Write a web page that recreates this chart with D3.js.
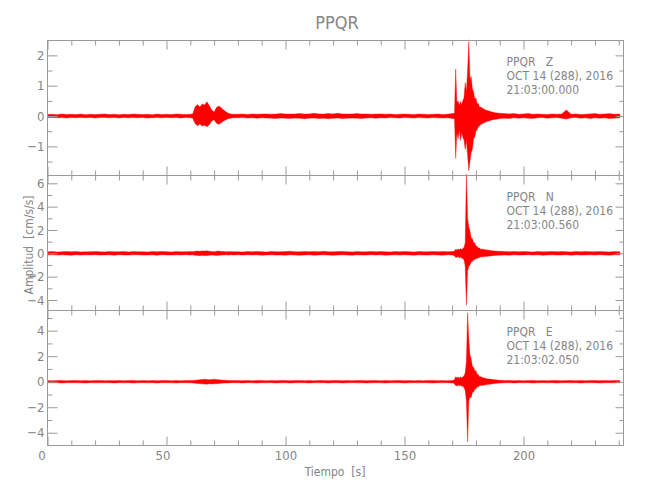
<!DOCTYPE html>
<html><head><meta charset="utf-8">
<script src="https://cdn.jsdelivr.net/npm/d3@7"></script>
<style>
body{margin:0;background:#fff;}
svg text{font-family:"DejaVu Sans Condensed","DejaVu Sans",sans-serif;font-stretch:condensed;fill:#858585;}
</style></head><body><svg id="c" width="650" height="500"></svg>
<script>
const title = "PPQR";
const xLabel = "Tiempo  [s]";
const yLabel = "Amplitud  [cm/s/s]";
const xTickValues = [0,50,100,150,200];
const xMinorValues = [10,20,30,40,60,70,80,90,110,120,130,140,160,170,180,190,210,220,230,240];
const channels = ["Z","N","E"];
const station = "PPQR";
const dateLabel = "OCT 14 (288), 2016";
const startTimes = ["21:03:00.000","21:03:00.560","21:03:02.050"];
const yDomains = [[-1.96,2.49],[-4.9,6.67],[-5.0,5.58]];
const yMajorTicks = [[-1,0,1,2],[-4,-2,0,2,4,6],[-4,-2,0,2,4]];
const yMinorTicks = [[-1.5,-0.5,0.5,1.5],[-3,-1,1,3,5],[-3,-1,1,3,5]];

// time knots (s) of the amplitude envelope
const times = [
0,2,4,6,8,10,12,14,16,18,20,22,24,26,28,30,32,34,36,38,40,42,44,46,48,50,52,54,56,58,60,
61,62,63,64,65,66,67,68,69,70,71,72,73,74,75,76,77,78,
80,82,84,86,88,90,92,94,96,98,100,102,104,106,108,110,112,114,116,118,120,122,124,126,128,130,132,134,136,138,140,142,144,146,148,150,152,154,156,158,160,162,164,166,168,170,
170.5,171,171.5,172,172.5,173,173.5,174,174.5,175,175.5,176,176.5,177,177.5,178,178.5,179,179.5,180,180.5,181,181.5,182,
183,184,185,186,187,188,189,190,
192,194,196,198,200,202,204,206,208,210,212,214,216,218,220,222,224,226,228,230,232,234,236,238,240.5];

// Z channel: upper / lower envelope (cm/s/s)
const zHi = [
0.05,0.06,0.045,0.065,0.05,0.06,0.05,0.065,0.045,0.06,0.05,0.06,0.065,0.05,0.06,0.045,0.06,0.05,0.065,0.06,0.05,0.06,0.045,0.065,0.05,0.06,0.05,0.065,0.06,0.05,0.06,
0.07,0.3,0.38,0.3,0.4,0.36,0.47,0.34,0.2,0.13,0.28,0.33,0.27,0.2,0.14,0.09,0.07,0.06,
0.06,0.065,0.05,0.07,0.06,0.065,0.07,0.06,0.065,0.08,0.07,0.065,0.07,0.08,0.065,0.07,0.09,0.07,0.065,0.08,0.07,0.09,0.07,0.065,0.07,0.08,0.065,0.07,0.06,0.065,0.07,0.06,0.065,0.05,0.06,0.065,0.06,0.05,0.065,0.06,0.05,0.06,0.065,0.05,0.06,0.08,
0.08,0.1,1.55,0.45,0.5,0.35,0.48,0.38,0.5,0.6,1.1,0.8,1.5,2.45,1.2,1.3,0.9,0.8,0.55,0.6,0.4,0.42,0.3,0.3,
0.25,0.2,0.18,0.15,0.13,0.11,0.1,0.09,
0.08,0.07,0.08,0.06,0.07,0.08,0.06,0.07,0.06,0.05,0.07,0.06,0.07,0.2,0.06,0.07,0.05,0.06,0.07,0.08,0.06,0.07,0.08,0.06,0.07];
const zLo = [
-0.05,-0.045,-0.06,-0.05,-0.065,-0.05,-0.06,-0.045,-0.06,-0.05,-0.065,-0.05,-0.045,-0.06,-0.05,-0.065,-0.05,-0.06,-0.045,-0.06,-0.05,-0.065,-0.06,-0.05,-0.06,-0.045,-0.06,-0.05,-0.065,-0.05,-0.06,
-0.07,-0.25,-0.32,-0.26,-0.33,-0.3,-0.35,-0.28,-0.16,-0.12,-0.24,-0.27,-0.22,-0.16,-0.12,-0.08,-0.07,-0.06,
-0.06,-0.05,-0.065,-0.06,-0.07,-0.06,-0.065,-0.07,-0.08,-0.065,-0.07,-0.08,-0.065,-0.07,-0.09,-0.07,-0.065,-0.08,-0.07,-0.09,-0.07,-0.065,-0.08,-0.07,-0.065,-0.07,-0.08,-0.065,-0.06,-0.07,-0.06,-0.065,-0.05,-0.06,-0.065,-0.05,-0.06,-0.065,-0.05,-0.06,-0.065,-0.05,-0.06,-0.065,-0.06,-0.08,
-0.08,-0.1,-1.4,-0.55,-0.75,-0.45,-0.8,-0.55,-0.7,-0.8,-1.1,-0.8,-1.3,-1.8,-1.5,-1.2,-1.1,-0.75,-0.7,-0.5,-0.45,-0.35,-0.33,-0.28,
-0.24,-0.2,-0.17,-0.15,-0.12,-0.11,-0.1,-0.08,
-0.07,-0.08,-0.06,-0.07,-0.06,-0.07,-0.08,-0.06,-0.05,-0.07,-0.06,-0.05,-0.07,-0.1,-0.06,-0.05,-0.07,-0.06,-0.08,-0.06,-0.07,-0.06,-0.08,-0.07,-0.06];

// N channel
const nHi = [
0.13,0.15,0.12,0.14,0.16,0.13,0.15,0.12,0.14,0.13,0.16,0.14,0.12,0.15,0.13,0.14,0.16,0.12,0.15,0.13,0.14,0.12,0.15,0.13,0.16,0.14,0.12,0.15,0.13,0.14,0.15,
0.14,0.17,0.19,0.17,0.21,0.19,0.22,0.17,0.15,0.14,0.17,0.19,0.16,0.15,0.14,0.13,0.15,0.13,
0.14,0.12,0.15,0.13,0.16,0.14,0.12,0.15,0.14,0.13,0.15,0.17,0.14,0.13,0.16,0.14,0.15,0.13,0.17,0.14,0.13,0.15,0.16,0.14,0.12,0.15,0.13,0.14,0.16,0.13,0.15,0.14,0.12,0.15,0.13,0.16,0.14,0.12,0.15,0.13,0.14,0.16,0.13,0.15,0.14,0.15,
0.16,0.2,0.35,0.28,0.38,0.3,0.4,0.33,0.42,0.5,0.9,6.8,3.0,2.3,1.9,1.3,1.25,0.9,0.9,0.62,0.6,0.45,0.45,0.36,
0.36,0.3,0.28,0.25,0.22,0.2,0.18,0.17,
0.15,0.14,0.16,0.13,0.15,0.14,0.12,0.15,0.13,0.14,0.16,0.13,0.15,0.14,0.12,0.15,0.13,0.16,0.14,0.13,0.15,0.14,0.12,0.15,0.13];
const nLo = [
-0.14,-0.12,-0.15,-0.13,-0.14,-0.16,-0.12,-0.15,-0.13,-0.14,-0.12,-0.15,-0.14,-0.13,-0.16,-0.12,-0.14,-0.15,-0.13,-0.12,-0.15,-0.14,-0.13,-0.16,-0.12,-0.14,-0.15,-0.13,-0.14,-0.12,-0.15,
-0.13,-0.17,-0.18,-0.2,-0.17,-0.21,-0.19,-0.17,-0.15,-0.16,-0.18,-0.17,-0.15,-0.14,-0.13,-0.15,-0.13,-0.14,
-0.13,-0.15,-0.12,-0.14,-0.13,-0.16,-0.14,-0.13,-0.15,-0.14,-0.16,-0.13,-0.15,-0.17,-0.14,-0.13,-0.16,-0.14,-0.13,-0.15,-0.17,-0.14,-0.13,-0.15,-0.16,-0.13,-0.14,-0.15,-0.12,-0.14,-0.13,-0.16,-0.14,-0.13,-0.15,-0.12,-0.14,-0.16,-0.13,-0.14,-0.15,-0.13,-0.14,-0.16,-0.13,-0.15,
-0.16,-0.2,-0.35,-0.33,-0.28,-0.4,-0.32,-0.42,-0.45,-0.55,-1.1,-4.45,-1.5,-1.1,-1.0,-0.75,-0.7,-0.55,-0.55,-0.45,-0.45,-0.36,-0.38,-0.3,
-0.3,-0.27,-0.25,-0.22,-0.2,-0.18,-0.17,-0.16,
-0.14,-0.16,-0.13,-0.15,-0.14,-0.12,-0.15,-0.13,-0.16,-0.14,-0.13,-0.15,-0.14,-0.12,-0.16,-0.13,-0.15,-0.14,-0.13,-0.15,-0.12,-0.14,-0.16,-0.13,-0.14];

// E channel
const eHi = [
0.09,0.08,0.1,0.09,0.075,0.09,0.1,0.08,0.09,0.075,0.09,0.1,0.08,0.09,0.075,0.1,0.08,0.09,0.09,0.075,0.1,0.08,0.09,0.075,0.09,0.1,0.08,0.09,0.075,0.09,0.1,
0.1,0.12,0.14,0.16,0.18,0.2,0.18,0.16,0.18,0.2,0.17,0.15,0.13,0.12,0.11,0.1,0.1,0.09,
0.09,0.075,0.1,0.08,0.09,0.1,0.075,0.09,0.08,0.1,0.09,0.075,0.09,0.1,0.08,0.09,0.075,0.1,0.09,0.08,0.1,0.09,0.075,0.09,0.08,0.1,0.09,0.075,0.09,0.1,0.08,0.09,0.075,0.09,0.1,0.08,0.09,0.075,0.09,0.08,0.1,0.09,0.075,0.09,0.08,0.1,
0.11,0.18,0.38,0.3,0.37,0.28,0.36,0.3,0.38,0.45,0.7,1.6,5.4,3.3,2.1,1.8,1.2,1.15,0.85,0.85,0.6,0.55,0.38,0.4,
0.3,0.27,0.22,0.21,0.17,0.16,0.13,0.12,
0.09,0.1,0.08,0.09,0.075,0.1,0.09,0.08,0.09,0.075,0.1,0.09,0.08,0.09,0.1,0.075,0.09,0.08,0.1,0.09,0.075,0.09,0.08,0.1,0.09];
const eLo = [
-0.08,-0.09,-0.075,-0.1,-0.09,-0.08,-0.075,-0.09,-0.1,-0.08,-0.09,-0.075,-0.09,-0.08,-0.1,-0.075,-0.09,-0.08,-0.1,-0.09,-0.075,-0.09,-0.08,-0.1,-0.075,-0.08,-0.09,-0.1,-0.08,-0.075,-0.09,
-0.1,-0.12,-0.14,-0.16,-0.17,-0.18,-0.19,-0.16,-0.18,-0.17,-0.16,-0.14,-0.12,-0.11,-0.1,-0.1,-0.09,-0.08,
-0.08,-0.1,-0.075,-0.09,-0.1,-0.08,-0.09,-0.075,-0.1,-0.09,-0.08,-0.1,-0.09,-0.075,-0.09,-0.1,-0.08,-0.09,-0.075,-0.1,-0.09,-0.08,-0.1,-0.09,-0.075,-0.09,-0.08,-0.1,-0.09,-0.075,-0.09,-0.1,-0.08,-0.09,-0.075,-0.1,-0.09,-0.08,-0.09,-0.075,-0.09,-0.1,-0.08,-0.09,-0.075,-0.1,
-0.11,-0.18,-0.3,-0.33,-0.26,-0.32,-0.28,-0.35,-0.36,-0.45,-0.7,-1.5,-4.7,-1.5,-1.2,-1.25,-0.85,-0.8,-0.6,-0.55,-0.42,-0.4,-0.32,-0.3,
-0.28,-0.24,-0.21,-0.19,-0.16,-0.15,-0.12,-0.11,
-0.09,-0.08,-0.1,-0.075,-0.09,-0.08,-0.1,-0.09,-0.075,-0.09,-0.08,-0.1,-0.09,-0.075,-0.09,-0.08,-0.1,-0.09,-0.075,-0.08,-0.1,-0.09,-0.08,-0.075,-0.09];

const seriesHi = [zHi, nHi, eHi];
const seriesLo = [zLo, nLo, eLo];

const svg = d3.select("#c");
const frameColor = "#9a9a9a";
const textColor = "#858585";
const left = 47.5, right = 623.5;
const panelTops = [40.5, 175.5, 310.5];
const panelH = 135;

const x = d3.scaleLinear().domain([0, 242]).range([left, right]);

svg.append("text").attr("x", 337).attr("y", 29).attr("text-anchor", "middle")
  .style("font-size", "18px").text(title);

channels.forEach((ch, i) => {
  const top = panelTops[i], bottom = top + panelH;
  const y = d3.scaleLinear().domain(yDomains[i]).range([bottom, top]);
  const g = svg.append("g");
  const data = times.map((t, k) => ({t, hi: seriesHi[i][k], lo: seriesLo[i][k]}))
                    .filter(d => d.hi !== undefined && d.lo !== undefined);

  const area = d3.area().x(d => x(d.t)).y0(d => y(d.lo)).y1(d => y(d.hi));
  g.append("path").datum(data).attr("d", area)
    .attr("fill", "#ff0000").attr("stroke", "#ff0000").attr("stroke-width", 0.4);

  const styleAxis = sel => {
    sel.select(".domain").remove();
    sel.selectAll("line").attr("stroke", frameColor);
    sel.selectAll("text").attr("fill", textColor).style("font-size", "13px")
      .style("font-family", "'DejaVu Sans Condensed','DejaVu Sans',sans-serif");
  };
  // Y axes (ticks inward)
  g.append("g").attr("transform", `translate(${left},0)`)
    .call(d3.axisLeft(y).tickValues(yMajorTicks[i]).tickSizeInner(-10).tickSizeOuter(0).tickPadding(3).tickFormat(d3.format("d")))
    .call(styleAxis);
  g.append("g").attr("transform", `translate(${left},0)`)
    .call(d3.axisLeft(y).tickValues(yMinorTicks[i]).tickSize(-5).tickFormat(""))
    .call(styleAxis);
  g.append("g").attr("transform", `translate(${right},0)`)
    .call(d3.axisRight(y).tickValues(yMajorTicks[i]).tickSize(-8).tickFormat(""))
    .call(styleAxis);
  g.append("g").attr("transform", `translate(${right},0)`)
    .call(d3.axisRight(y).tickValues(yMinorTicks[i]).tickSize(-4).tickFormat(""))
    .call(styleAxis);
  // X ticks top and bottom (inward)
  g.append("g").attr("transform", `translate(0,${top})`)
    .call(d3.axisTop(x).tickValues(xTickValues).tickSize(-9).tickFormat(""))
    .call(styleAxis);
  g.append("g").attr("transform", `translate(0,${top})`)
    .call(d3.axisTop(x).tickValues(xMinorValues).tickSize(-5).tickFormat(""))
    .call(styleAxis);
  const bx = g.append("g").attr("transform", `translate(0,${bottom})`)
    .call(d3.axisBottom(x).tickValues(xTickValues).tickSizeInner(-9).tickSizeOuter(0).tickPadding(5)
      .tickFormat(i === 2 ? d3.format("d") : ""))
    .call(styleAxis);
  if (i === 2) {
    bx.selectAll("text").attr("dx", d => d === 0 ? -6 : d === 50 ? -4 : 0);
  }
  g.append("g").attr("transform", `translate(0,${bottom})`)
    .call(d3.axisBottom(x).tickValues(xMinorValues).tickSize(-5).tickFormat(""))
    .call(styleAxis);

  g.append("rect").attr("x", left).attr("y", top).attr("width", right - left).attr("height", panelH)
    .attr("fill", "none").attr("stroke", frameColor).attr("stroke-width", 1);

  const lines = [station + "   " + ch, dateLabel, startTimes[i]];
  g.selectAll("text.ann").data(lines).join("text").attr("class", "ann")
    .attr("x", 506.5).attr("y", (d, k) => top + 25 + k * 14.3)
    .style("font-size", "12px").style("white-space", "pre").text(d => d);
});

svg.append("text").attr("x", 335).attr("y", 476).attr("text-anchor", "middle")
  .style("font-size", "12px").style("white-space", "pre").text(xLabel);
svg.append("text").attr("transform", "translate(33,245) rotate(-90)").attr("text-anchor", "middle")
  .style("font-size", "12px").style("white-space", "pre").text(yLabel);
</script></body></html>
